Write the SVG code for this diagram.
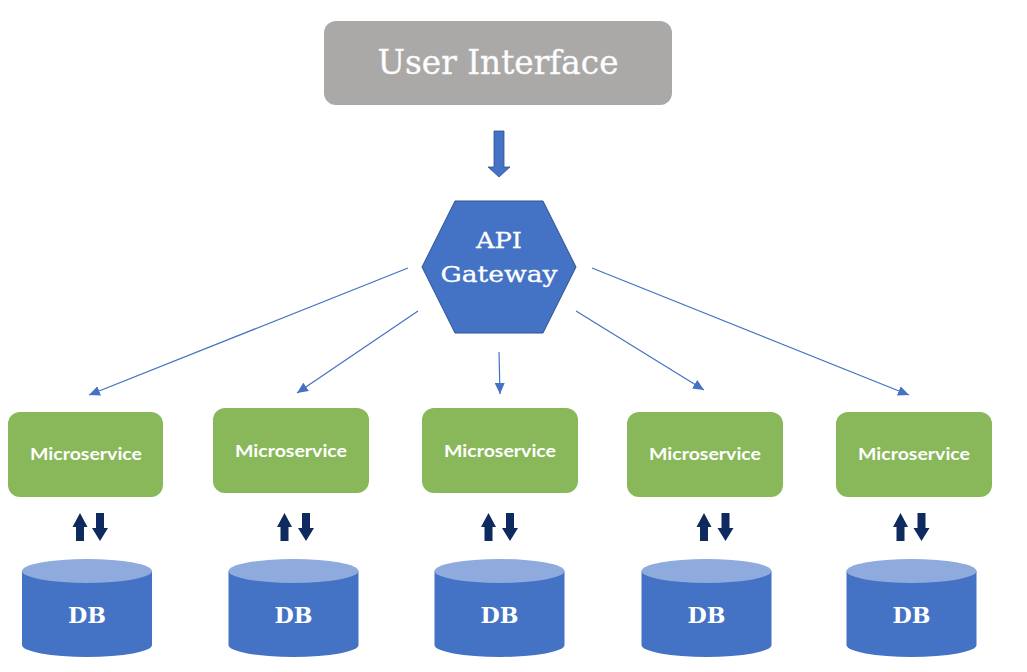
<svg xmlns="http://www.w3.org/2000/svg" xmlns:xlink="http://www.w3.org/1999/xlink" width="1027" height="672" viewBox="0 0 1027 672">
  <style>
    .ms rect { fill: #88b85a; }
    .ms text { font-family: Lato, "Open Sans", sans-serif; font-weight: bold; font-size: 17px; fill: #ffffff; text-anchor: middle; }
    .db .body { fill: #4472c4; }
    .db .top { fill: #8faadc; }
    .db text { font-family: "DejaVu Serif", serif; font-weight: bold; font-size: 22px; fill: #ffffff; text-anchor: middle; }
    .conn line { stroke: #4472c4; stroke-width: 1.2; fill: none; }
    .dual { fill: #0f2a5e; }
    .serif { font-family: "DejaVu Serif", serif; fill: #ffffff; text-anchor: middle; }
  </style>
  <defs>
    <marker id="ah" markerUnits="userSpaceOnUse" markerWidth="12" markerHeight="10" refX="11" refY="5" orient="auto">
      <path d="M0,0 L11,5 L0,10 Z" fill="#4472c4"/>
    </marker>
    <path id="up" d="M0,0 L7.5,14 L4,14 L4,28 L-4,28 L-4,14 L-7.5,14 Z"/>
    <path id="down" d="M-4,0 L4,0 L4,15 L8,15 L0,28 L-8,15 L-4,15 Z"/>
  </defs>
  <rect width="1027" height="672" fill="#ffffff"/>

  <g id="user-interface">
    <rect x="324" y="21" width="348" height="84" rx="12" fill="#aaa9a8"/>
    <text class="serif" x="498" y="74" font-size="34" textLength="241" lengthAdjust="spacingAndGlyphs" fill="#f4f4f4" stroke="#f4f4f4" stroke-width="0.4">User Interface</text>
  </g>

  <g id="ui-arrow">
    <path d="M494,131 L504,131 L504,167 L510,167 L499,177 L488,167 L494,167 Z" fill="#4472c4" stroke="#2f528f" stroke-width="0.8"/>
  </g>

  <g id="api-gateway">
    <polygon points="455,201 543,201 576,267 543,333 455,333 422,267" fill="#4472c4" stroke="#2f528f" stroke-width="1"/>
    <text class="serif" x="499" y="248" font-size="23" textLength="46" lengthAdjust="spacingAndGlyphs" stroke="#ffffff" stroke-width="0.3">API</text>
    <text class="serif" x="499" y="282" font-size="23" textLength="117" lengthAdjust="spacingAndGlyphs" stroke="#ffffff" stroke-width="0.3">Gateway</text>
  </g>

  <g id="connectors" class="conn">
    <line x1="408" y1="268" x2="89" y2="395" marker-end="url(#ah)"/>
    <line x1="418" y1="311" x2="297" y2="393" marker-end="url(#ah)"/>
    <line x1="499" y1="352" x2="500" y2="394" marker-end="url(#ah)"/>
    <line x1="576" y1="311" x2="704" y2="390" marker-end="url(#ah)"/>
    <line x1="592" y1="268" x2="909" y2="395" marker-end="url(#ah)"/>
  </g>

  <g id="ms1" class="ms">
    <rect x="8" y="412" width="155" height="85" rx="12"/>
    <text x="86" y="460" textLength="112" lengthAdjust="spacingAndGlyphs">Microservice</text>
  </g>
  <g id="ms2" class="ms">
    <rect x="213" y="408" width="156" height="85" rx="12"/>
    <text x="291" y="457" textLength="112" lengthAdjust="spacingAndGlyphs">Microservice</text>
  </g>
  <g id="ms3" class="ms">
    <rect x="422" y="408" width="156" height="85" rx="12"/>
    <text x="500" y="457" textLength="112" lengthAdjust="spacingAndGlyphs">Microservice</text>
  </g>
  <g id="ms4" class="ms">
    <rect x="627" y="412" width="156" height="85" rx="12"/>
    <text x="705" y="460" textLength="112" lengthAdjust="spacingAndGlyphs">Microservice</text>
  </g>
  <g id="ms5" class="ms">
    <rect x="836" y="412" width="156" height="85" rx="12"/>
    <text x="914" y="460" textLength="112" lengthAdjust="spacingAndGlyphs">Microservice</text>
  </g>

  <g id="data-arrows" class="dual">
    <use xlink:href="#up" href="#up" x="80" y="513"/>
    <use xlink:href="#down" href="#down" x="100" y="513"/>
    <use xlink:href="#up" href="#up" x="284.5" y="513"/>
    <use xlink:href="#down" href="#down" x="306" y="513"/>
    <use xlink:href="#up" href="#up" x="488.5" y="513"/>
    <use xlink:href="#down" href="#down" x="510" y="513"/>
    <use xlink:href="#up" href="#up" x="704" y="513"/>
    <use xlink:href="#down" href="#down" x="725.5" y="513"/>
    <use xlink:href="#up" href="#up" x="900.5" y="513"/>
    <use xlink:href="#down" href="#down" x="921.5" y="513"/>
  </g>

  <g id="db1" class="db" transform="translate(87,559)">
    <path class="body" d="M-65,12 L-65,86 A65,12 0 0 0 65,86 L65,12 Z"/>
    <ellipse class="top" cx="0" cy="12" rx="65" ry="12"/>
    <text x="0" y="64" textLength="38" lengthAdjust="spacingAndGlyphs">DB</text>
  </g>
  <g id="db2" class="db" transform="translate(293.5,559)">
    <path class="body" d="M-65,12 L-65,86 A65,12 0 0 0 65,86 L65,12 Z"/>
    <ellipse class="top" cx="0" cy="12" rx="65" ry="12"/>
    <text x="0" y="64" textLength="38" lengthAdjust="spacingAndGlyphs">DB</text>
  </g>
  <g id="db3" class="db" transform="translate(499.5,559)">
    <path class="body" d="M-65,12 L-65,86 A65,12 0 0 0 65,86 L65,12 Z"/>
    <ellipse class="top" cx="0" cy="12" rx="65" ry="12"/>
    <text x="0" y="64" textLength="38" lengthAdjust="spacingAndGlyphs">DB</text>
  </g>
  <g id="db4" class="db" transform="translate(706.5,559)">
    <path class="body" d="M-65,12 L-65,86 A65,12 0 0 0 65,86 L65,12 Z"/>
    <ellipse class="top" cx="0" cy="12" rx="65" ry="12"/>
    <text x="0" y="64" textLength="38" lengthAdjust="spacingAndGlyphs">DB</text>
  </g>
  <g id="db5" class="db" transform="translate(911.5,559)">
    <path class="body" d="M-65,12 L-65,86 A65,12 0 0 0 65,86 L65,12 Z"/>
    <ellipse class="top" cx="0" cy="12" rx="65" ry="12"/>
    <text x="0" y="64" textLength="38" lengthAdjust="spacingAndGlyphs">DB</text>
  </g>
</svg>
